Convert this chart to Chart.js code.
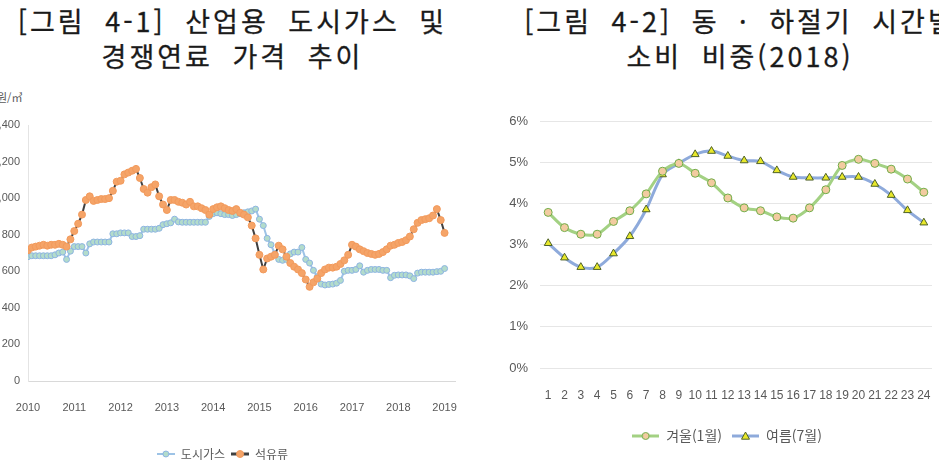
<!DOCTYPE html>
<html lang="ko">
<head>
<meta charset="utf-8">
<script src="https://cdn.jsdelivr.net/npm/chart.js@4.4.1/dist/chart.umd.min.js"></script>
<style>
  html, body { margin: 0; padding: 0; background: #fff; }
  body { width: 939px; height: 463px; position: relative; overflow: hidden; font-family: 'Noto Sans CJK KR', sans-serif; }
  .title { position: absolute; top: 3px; font-size: 27px; line-height: 35px; color: #1a1a1a; text-align: center; letter-spacing: 3px; word-spacing: 9px; white-space: nowrap; -webkit-text-stroke: 0.3px #1a1a1a; }
  #title1 { left: 0; width: 465px; }
  #title2 { left: 520px; width: 440px; }
  #unit { position: absolute; left: -3px; top: 89px; font-size: 11px; color: #595959; }
  canvas { position: absolute; }
  #priceChart { left: -10px; top: 85px; }
  #hourChart { left: 470px; top: 85px; }
</style>
</head>
<body>
<div class="title" id="title1">[그림 4-1] 산업용 도시가스 및<br>경쟁연료 가격 추이</div>
<div class="title" id="title2">[그림 4-2] 동 · 하절기 시간별<br>소비 비중(2018)</div>
<div id="unit">원/㎥</div>
<canvas id="priceChart" width="480" height="385"></canvas>
<canvas id="hourChart" width="469" height="378"></canvas>
<script>
// 그림 4-1: 월별 가격 (2010.1 ~ 2019.1), 원/㎥
const yearLabels = ['2010', '2011', '2012', '2013', '2014', '2015', '2016', '2017', '2018', '2019'];
const gasPrice = [
  680, 685, 685, 685, 685, 685, 685, 690, 700, 705, 665, 710,
  735, 735, 735, 700, 750, 760, 760, 760, 760, 760, 805, 805,
  810, 810, 810, 790, 790, 795, 830, 830, 830, 830, 835, 855,
  860, 865, 885, 870, 868, 868, 868, 868, 868, 868, 868, 900,
  915, 920, 915, 910, 910, 905, 910, 915, 920, 925, 930, 940,
  885, 850, 780, 745, 695, 665, 660, 665, 695, 705, 705, 730,
  665, 645, 605, 570, 530, 525, 528, 530, 535, 550, 600, 605,
  605, 610, 630, 595, 605, 610, 610, 610, 605, 605, 565, 578,
  580, 580, 580, 575, 560, 590, 595, 595, 595, 595, 598, 600,
  615
];
const oilPrice = [
  715, 730, 735, 740, 745, 740, 745, 745, 750, 745, 735, 775,
  820, 860, 910, 990, 1010, 985, 990, 995, 995, 1000, 1040, 1090,
  1095, 1130, 1140, 1150, 1160, 1110, 1050, 1030, 1060, 1075, 1010, 965,
  935, 990, 990, 980, 975, 965, 980, 955, 955, 945, 935, 910,
  940, 950, 955, 945, 935, 930, 940, 920, 910, 895, 850, 780,
  690, 610, 670, 680, 690, 740, 720, 680, 645, 625, 610, 590,
  555, 515, 540, 560, 590, 610, 620, 620, 625, 640, 660, 690,
  745, 735, 720, 710, 700, 695, 690, 695, 705, 720, 740, 745,
  755, 760, 770, 790, 830, 865, 880, 885, 890, 905, 940, 880,
  810
];

// 그림 4-2: 시간대별 소비 비중 (%)
const hours = ['1', '2', '3', '4', '5', '6', '7', '8', '9', '10', '11', '12',
  '13', '14', '15', '16', '17', '18', '19', '20', '21', '22', '23', '24'];
const winterShare = [3.78, 3.41, 3.25, 3.25, 3.56, 3.82, 4.23, 4.78, 4.97, 4.73, 4.50, 4.13,
  3.89, 3.82, 3.67, 3.64, 3.89, 4.33, 4.92, 5.07, 4.97, 4.83, 4.59, 4.27];
const summerShare = [3.03, 2.68, 2.45, 2.45, 2.78, 3.20, 3.85, 4.70, 4.97, 5.19, 5.27, 5.15,
  5.04, 5.02, 4.80, 4.64, 4.62, 4.62, 4.64, 4.64, 4.47, 4.20, 3.83, 3.53];

const tickFont = "'Liberation Sans', sans-serif";
const axisGray = '#595959';

// 엑셀식 범례 아이콘 (선 + 마커)
function legendIcon(lineColor, lineWidth, style, fill, stroke, r, len) {
  const c = document.createElement('canvas');
  c.width = len;
  c.height = 14;
  const ctx = c.getContext('2d');
  ctx.strokeStyle = lineColor;
  ctx.lineWidth = lineWidth;
  ctx.beginPath();
  ctx.moveTo(0, 7);
  ctx.lineTo(len, 7);
  ctx.stroke();
  ctx.fillStyle = fill;
  ctx.strokeStyle = stroke;
  ctx.lineWidth = 1;
  ctx.beginPath();
  if (style === 'triangle') {
    ctx.moveTo(len / 2, 7 - r);
    ctx.lineTo(len / 2 + r, 7 + r * 0.8);
    ctx.lineTo(len / 2 - r, 7 + r * 0.8);
    ctx.closePath();
  } else {
    ctx.arc(len / 2, 7, r, 0, Math.PI * 2);
  }
  ctx.fill();
  ctx.stroke();
  return c;
}

function labelsWithIcons(icons) {
  return (chart) => {
    const items = Chart.defaults.plugins.legend.labels.generateLabels(chart);
    items.sort((a, b) => a.datasetIndex - b.datasetIndex);
    items.forEach(item => { item.pointStyle = icons[item.datasetIndex]; });
    return items;
  };
}

function noEdgePadding(scale, height) {
  scale.height = height;
  scale.paddingLeft = 0;
  scale.paddingRight = 0;
}

// 범례를 플롯 중앙 쪽으로 조금 이동
const legendShift = {
  id: 'legendShift',
  afterLayout(chart, args, opts) {
    chart.legend.left += opts.dx;
    chart.legend.right += opts.dx;
  }
};

const gasStyle = { line: '#9dc3e6', fill: '#b3dccb', border: '#8db4e2' };
const oilStyle = { line: '#404040', fill: '#f5a468', border: '#f29a5c' };

new Chart(document.getElementById('priceChart'), {
  type: 'line',
  data: {
    datasets: [
      {
        label: '도시가스',
        data: gasPrice.map((v, i) => ({ x: i, y: v })),
        borderColor: gasStyle.line,
        borderWidth: 2,
        pointRadius: 3,
        pointBackgroundColor: gasStyle.fill,
        pointBorderColor: gasStyle.border,
        pointBorderWidth: 1,
        order: 1
      },
      {
        label: '석유류',
        data: oilPrice.map((v, i) => ({ x: i, y: v })),
        borderColor: oilStyle.line,
        borderWidth: 2,
        pointRadius: 3.5,
        pointBackgroundColor: oilStyle.fill,
        pointBorderColor: oilStyle.border,
        pointBorderWidth: 1,
        order: 0
      }
    ]
  },
  options: {
    responsive: false,
    animation: false,
    devicePixelRatio: 1,
    layout: { padding: { top: 40, right: 15, left: 0, bottom: 0 } },
    plugins: {
      tooltip: { enabled: false },
      legendShift: { dx: 0 },
      legend: {
        position: 'bottom',
        labels: {
          usePointStyle: true,
          pointStyleWidth: 18,
          padding: 6,
          color: axisGray,
          font: { family: "'Noto Sans CJK KR', sans-serif", size: 12 },
          generateLabels: labelsWithIcons([
            legendIcon(gasStyle.line, 2, 'circle', gasStyle.fill, gasStyle.border, 3, 18),
            legendIcon(oilStyle.line, 3, 'circle', oilStyle.fill, oilStyle.border, 3.5, 18)
          ])
        }
      }
    },
    scales: {
      x: {
        type: 'linear',
        min: 0,
        max: 110.7,
        afterBuildTicks: (scale) => { scale.ticks = yearLabels.map((_, i) => ({ value: i * 12 })); },
        afterFit: (scale) => noEdgePadding(scale, 61),
        grid: { display: false, drawTicks: false },
        border: { display: true, color: '#d9d9d9' },
        ticks: {
          padding: 20,
          maxRotation: 0,
          color: axisGray,
          font: { family: tickFont, size: 11 },
          callback: (v) => yearLabels[Math.round(v / 12)]
        }
      },
      y: {
        min: 0,
        max: 1400,
        afterFit: (scale) => { scale.width = 38; },
        grid: { display: false, drawTicks: false },
        border: { display: true, color: '#e4e4e4' },
        ticks: {
          stepSize: 200,
          padding: 8,
          color: axisGray,
          font: { family: tickFont, size: 11 },
          callback: (v) => v.toLocaleString('en-US')
        }
      }
    }
  },
  plugins: [legendShift]
});

const winterStyle = { line: '#a3d183', fill: '#f2cba0', border: '#70ad47' };
const summerStyle = { line: '#8eaadb', fill: '#e8e82a', border: '#4f6228' };

new Chart(document.getElementById('hourChart'), {
  type: 'line',
  data: {
    labels: hours,
    datasets: [
      {
        label: '겨울(1월)',
        data: winterShare,
        borderColor: winterStyle.line,
        borderWidth: 3,
        tension: 0.3,
        pointStyle: 'circle',
        pointRadius: 4,
        pointBackgroundColor: winterStyle.fill,
        pointBorderColor: winterStyle.border,
        pointBorderWidth: 1
      },
      {
        label: '여름(7월)',
        data: summerShare,
        borderColor: summerStyle.line,
        borderWidth: 3,
        tension: 0.3,
        pointStyle: 'triangle',
        pointRadius: 4.5,
        pointBackgroundColor: summerStyle.fill,
        pointBorderColor: summerStyle.border,
        pointBorderWidth: 1
      }
    ]
  },
  options: {
    responsive: false,
    animation: false,
    devicePixelRatio: 1,
    layout: { padding: { top: 36, right: 7, left: 0, bottom: 10 } },
    plugins: {
      tooltip: { enabled: false },
      legendShift: { dx: 26 },
      legend: {
        position: 'bottom',
        labels: {
          usePointStyle: true,
          pointStyleWidth: 27,
          padding: 10,
          color: axisGray,
          font: { family: "'Noto Sans CJK KR', sans-serif", size: 14 },
          generateLabels: labelsWithIcons([
            legendIcon(winterStyle.line, 3, 'circle', winterStyle.fill, winterStyle.border, 3.5, 27),
            legendIcon(summerStyle.line, 3, 'triangle', summerStyle.fill, summerStyle.border, 4, 27)
          ])
        }
      }
    },
    scales: {
      x: {
        offset: true,
        afterFit: (scale) => noEdgePadding(scale, 51),
        grid: { display: false, drawTicks: false },
        border: { display: false },
        ticks: {
          padding: 20,
          maxRotation: 0,
          autoSkip: false,
          color: axisGray,
          font: { family: tickFont, size: 12 }
        }
      },
      y: {
        min: 0,
        max: 6,
        afterFit: (scale) => { scale.width = 70; },
        grid: { color: '#e6e6e6', drawTicks: false },
        border: { display: false },
        ticks: {
          stepSize: 1,
          padding: 12,
          color: axisGray,
          font: { family: tickFont, size: 13 },
          callback: (v) => v + '%'
        }
      }
    }
  },
  plugins: [legendShift]
});
</script>
</body>
</html>
